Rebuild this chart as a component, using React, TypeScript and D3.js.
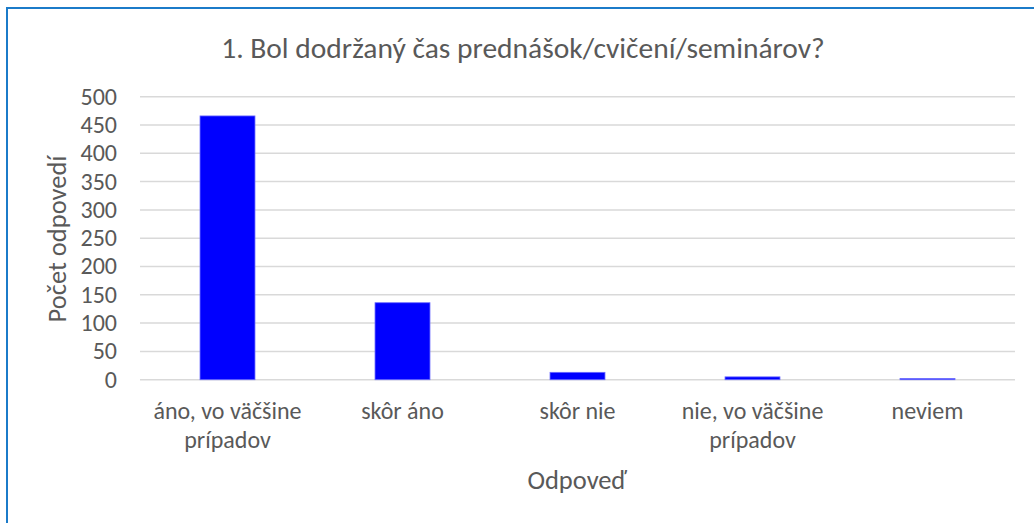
import * as d3 from 'd3';
import { useEffect, useRef } from 'react';

const categories = [['áno, vo väčšine', 'prípadov'], ['skôr áno'], ['skôr nie'], ['nie, vo väčšine', 'prípadov'], ['neviem']];
const counts = [466, 136, 13, 5, 2];
const yTicks = [0, 50, 100, 150, 200, 250, 300, 350, 400, 450, 500];

const titleText = '1. Bol dodržaný čas prednášok/cvičení/seminárov?';
const font = "Carlito, 'Open Sans', sans-serif";

const App = () => {
    const ref = useRef<SVGSVGElement>(null);

    useEffect(() => {
        const svg: any = d3.select(ref.current);
        svg.selectAll('*').remove();

        // chart frame
        svg.append('rect')
            .attr('x', 7).attr('y', 8)
            .attr('width', 1040).attr('height', 530)
            .attr('fill', '#fff')
            .attr('stroke', '#1b7bc9')
            .attr('stroke-width', 2);

        const left = 140, right = 1015, top = 96.7, bottom = 379.7;

        const x: any = d3.scaleBand()
            .domain(categories.map((c, i) => String(i)))
            .range([left, right])
            .paddingInner(0.686)
            .paddingOuter(0.343);

        const y: any = d3.scaleLinear().domain([0, 500]).range([bottom, top]);

        // gridlines
        svg.append('g')
            .selectAll('line')
            .data(yTicks)
            .enter()
            .append('line')
            .attr('x1', left).attr('x2', right)
            .attr('y1', (d: number) => y(d)).attr('y2', (d: number) => y(d))
            .attr('stroke', '#d9d9d9')
            .attr('stroke-width', 1.5);

        // tick labels
        svg.append('g')
            .selectAll('text')
            .data(yTicks)
            .enter()
            .append('text')
            .attr('x', 117)
            .attr('y', (d: number) => y(d))
            .attr('dy', '0.33em')
            .attr('text-anchor', 'end')
            .style('font-family', font)
            .style('font-size', '24px')
            .style('fill', '#595959')
            .text((d: number) => d);

        // bars
        svg.append('g')
            .selectAll('rect')
            .data(counts)
            .enter()
            .append('rect')
            .attr('x', (d: number, i: number) => x(String(i)))
            .attr('width', x.bandwidth())
            .attr('y', (d: number) => y(d))
            .attr('height', (d: number) => y(0) - y(d))
            .attr('fill', '#0000ff')
            .attr('stroke', '#6a6aff')
            .attr('stroke-width', 0.8);

        // category labels
        const cat = svg.append('g')
            .selectAll('text')
            .data(categories)
            .enter()
            .append('text')
            .attr('x', (d: string[], i: number) => x(String(i)) + x.bandwidth() / 2)
            .attr('y', 419)
            .attr('text-anchor', 'middle')
            .style('font-family', font)
            .style('font-size', '24px')
            .style('fill', '#595959');
        cat.selectAll('tspan')
            .data((d: string[]) => d)
            .enter()
            .append('tspan')
            .attr('x', function (this: any) { return d3.select(this.parentNode).attr('x'); })
            .attr('dy', (d: string, i: number) => (i === 0 ? 0 : 29))
            .text((d: string) => d);

        // title
        svg.append('text')
            .attr('x', 523).attr('y', 58)
            .attr('text-anchor', 'middle')
            .style('font-family', font)
            .style('font-size', '29.5px')
            .style('fill', '#595959')
            .text(titleText);

        // axis titles
        svg.append('text')
            .attr('transform', `translate(66, 239) rotate(-90)`)
            .attr('text-anchor', 'middle')
            .style('font-family', font)
            .style('font-size', '26.5px')
            .style('fill', '#595959')
            .text('Počet odpovedí');

        svg.append('text')
            .attr('x', 577).attr('y', 489)
            .attr('text-anchor', 'middle')
            .style('font-family', font)
            .style('font-size', '26.5px')
            .style('fill', '#595959')
            .text('Odpoveď');
    }, []);

    return (
        <svg ref={ref} width={1034} height={523}
            style={{ position: 'absolute', left: 0, top: 0, display: 'block' }} />
    );
};

export default App;
